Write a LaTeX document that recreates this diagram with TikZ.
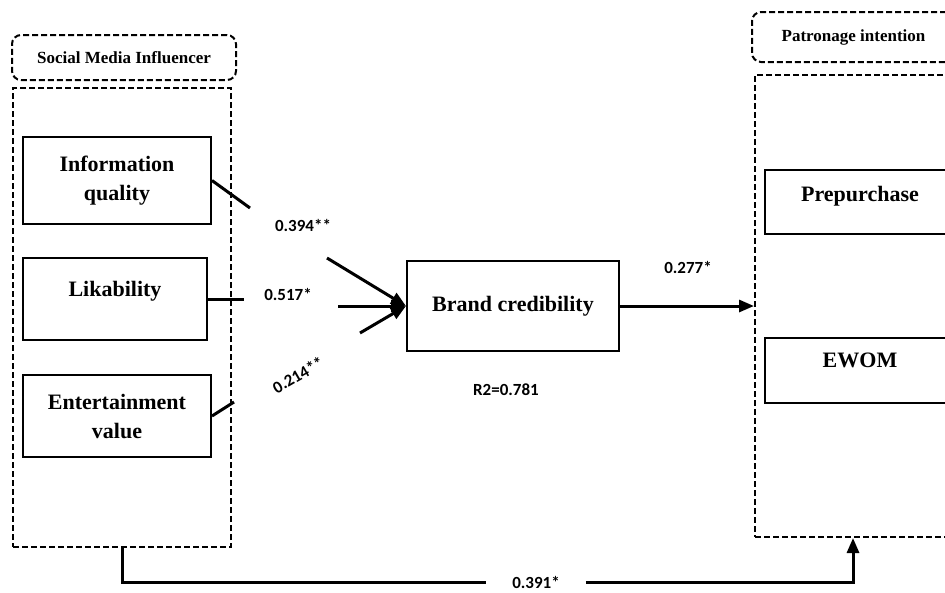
\documentclass[tikz,border=0pt]{standalone}
\usepackage{fontspec}
\setmainfont{Liberation Serif}
\newfontfamily\coeffont{Carlito}
\usetikzlibrary{arrows.meta,positioning}

\begin{document}
\begin{tikzpicture}[x=1pt,y=-1pt,
  var/.style={draw,line width=2pt,minimum width=188pt,minimum height=84pt,align=center,font=\fontsize{22}{29}\selectfont\bfseries},
  grp/.style={draw,line width=2pt,dash pattern=on 6pt off 3pt},
  hdr/.style={grp,rounded corners=9pt,font=\fontsize{17}{20}\selectfont\bfseries},
  coef/.style={font=\fontsize{17}{20}\selectfont\coeffont\bfseries},
  arr/.style={-{Triangle[length=15pt,width=12pt]},line width=3pt},
  seg/.style={line width=3pt}]
\useasboundingbox (0,0) rectangle (945,592);
\clip (0,0) rectangle (945,592);
% groups
\node[hdr,minimum width=224pt,minimum height=45pt] (smi) at (124,57.5) {Social Media Influencer};
\node[grp,minimum width=218pt,minimum height=459pt] (lgp) at (122,317.5) {};
\node[hdr,minimum width=203pt,minimum height=50pt] (pin) at (853.5,37) {Patronage intention};
\node[grp,minimum width=196pt,minimum height=462pt] (rgp) at (853,306) {};
% variables
\node[var,minimum height=87pt] (iq) at (117,180.5) {Information\\quality};
\node[var,minimum width=184pt,minimum height=82pt,text depth=20pt] (lk) at (115,299) {Likability};
\node[var,minimum height=82pt] (ev) at (117,416) {Entertainment\\value};
\node[var,minimum width=212pt,minimum height=90pt] (bc) at (513,306) {Brand credibility};
\node[var,minimum width=190pt,minimum height=64pt,text depth=17pt] (pp) at (860,202) {Prepurchase};
\node[var,minimum width=190pt,minimum height=65pt,text depth=20pt] (ewom) at (860,370.5) {EWOM};
% coefficients
\node[coef] (k1) at (303,225) {0.394**};
\node[coef] (k2) at (288,294) {0.517*};
\node[coef,rotate=30] (k3) at (298,375) {0.214**};
\node[coef] (k4) at (688,267) {0.277*};
\node[coef] (r2) at (506,390) {R2=0.781};
\node[coef,fill=white,inner xsep=26pt] (k5) at (536,582) {0.391*};
% paths
\coordinate (a1) at (250,208);
\coordinate (a2) at (327,258);
\coordinate (b1) at (244,299);
\coordinate (b2) at (338,306);
\coordinate (c1) at (234,402);
\coordinate (c2) at (360,333);
\draw[seg] (iq.east) -- (a1);
\draw[arr] (a2) -- (bc.west);
\draw[seg] (lk.east) -- (b1);
\draw[arr] (b2) -- (bc.west);
\draw[seg] (ev.east) -- (c1);
\draw[arr] (c2) -- (bc.west);
\draw[arr] (bc.east) -- (bc.east -| rgp.west);
\draw[seg] (lgp.south) |- (k5.west);
\draw[arr] (k5.east) -| (rgp.south);
\end{tikzpicture}
\end{document}
